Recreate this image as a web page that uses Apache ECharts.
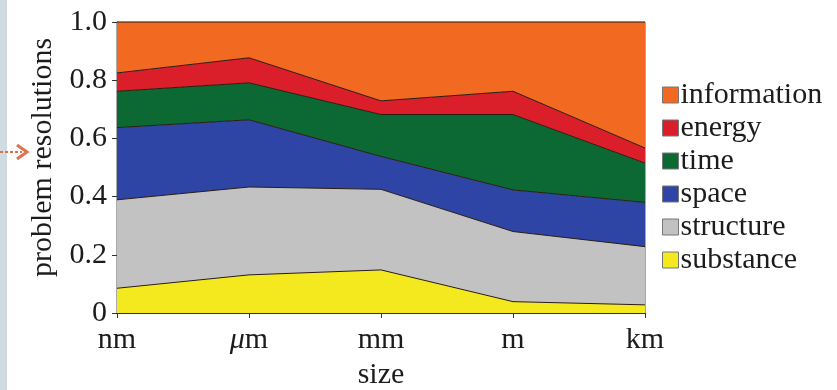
<!DOCTYPE html>
<html>
<head>
<meta charset="utf-8">
<script src="https://cdn.jsdelivr.net/npm/echarts@6/dist/echarts.min.js"></script>
<style>
  html, body { margin: 0; padding: 0; background: #fff; }
  #main { width: 837px; height: 390px; }
</style>
</head>
<body>
<div id="main"></div>
<script>
var sizes = ['nm', 'μm', 'mm', 'm', 'km'];
var yTicks = [0, 0.2, 0.4, 0.6, 0.8, 1.0];

// shares per size class, bottom of stack first
var substance = [0.085, 0.131, 0.148, 0.039, 0.028];
var structure = [0.304, 0.302, 0.277, 0.241, 0.200];
var space = [0.248, 0.231, 0.113, 0.143, 0.152];
var time = [0.125, 0.127, 0.144, 0.259, 0.135];
var energy = [0.063, 0.086, 0.047, 0.080, 0.052];
var information = [0.175, 0.123, 0.271, 0.238, 0.433];

var chartDom = document.getElementById('main');
var myChart = echarts.init(chartDom);
var option;

var font = "'Liberation Serif', 'Times New Roman', 'DejaVu Serif', serif";
var ink = '#1c1c1c';

function layer(name, data, color) {
    return {
        name: name,
        type: 'line',
        stack: 'total',
        data: data,
        showSymbol: false,
        symbol: 'none',
        lineStyle: { color: '#2a1a10', width: 1 },
        itemStyle: { color: color },
        areaStyle: { color: color, opacity: 1 }
    };
}

option = {
    animation: false,
    textStyle: { fontFamily: font },
    graphic: [
        {
            type: 'rect',
            left: 0, top: 0,
            shape: { width: 7, height: 390 },
            style: { fill: '#cfdae1' }
        },
        {
            type: 'line',
            shape: { x1: 0, y1: 152, x2: 22, y2: 152 },
            style: { stroke: '#e0704e', lineWidth: 2, lineDash: [3, 2] }
        },
        {
            type: 'polyline',
            shape: { points: [[17, 145], [27, 152], [17, 159]] },
            style: { stroke: '#e0704e', lineWidth: 3, fill: null }
        }
    ],
    legend: {
        orient: 'vertical',
        left: 657,
        top: 75,
        itemWidth: 16,
        itemHeight: 16,
        itemGap: 3,
        icon: 'rect',
        data: ['information', 'energy', 'time', 'space', 'structure', 'substance'],
        textStyle: { fontFamily: font, fontSize: 30, color: ink, padding: [0, 0, 0, -3] },
        itemStyle: { borderColor: '#777', borderWidth: 1 }
    },
    grid: {
        left: 117,
        right: 192,
        top: 22,
        bottom: 77,
        outerBoundsMode: 'none',
        show: true,
        borderColor: '#555',
        borderWidth: 1,
        backgroundColor: 'transparent'
    },
    xAxis: {
        type: 'category',
        boundaryGap: false,
        data: sizes,
        name: 'size',
        nameLocation: 'middle',
        nameGap: 46,
        nameTextStyle: { fontFamily: font, fontSize: 30, color: ink },
        axisLine: { lineStyle: { color: '#333', width: 1 } },
        axisTick: { show: true, length: 5, lineStyle: { color: '#333' } },
        axisLabel: {
            margin: 12,
            fontFamily: font,
            fontSize: 30,
            color: ink,
            formatter: function (v) {
                return v === 'μm' ? '{i|μ}m' : v;
            },
            rich: {
                i: { fontFamily: font, fontSize: 30, fontStyle: 'italic', color: ink }
            }
        },
        splitLine: { show: false }
    },
    yAxis: {
        type: 'value',
        min: 0,
        max: 1,
        interval: 0.2,
        name: 'problem resolutions',
        nameLocation: 'middle',
        nameGap: 55,
        nameRotate: 90,
        nameTextStyle: { fontFamily: font, fontSize: 30, color: ink, padding: [0, 0, 0, 20] },
        axisLine: { show: true, lineStyle: { color: '#333', width: 1 } },
        axisTick: { show: true, length: 5, lineStyle: { color: '#333' } },
        axisLabel: {
            margin: 10,
            fontFamily: font,
            fontSize: 30,
            color: ink,
            formatter: function (v) {
                return v === 0 ? '0' : v.toFixed(1);
            }
        },
        splitLine: { show: false }
    },
    series: [
        layer('substance', substance, '#f4e91e'),
        layer('structure', structure, '#c2c2c2'),
        layer('space', space, '#2f45a5'),
        layer('time', time, '#0d6934'),
        layer('energy', energy, '#db1f2a'),
        layer('information', information, '#f26a21')
    ]
};

option && myChart.setOption(option);
</script>
</body>
</html>
